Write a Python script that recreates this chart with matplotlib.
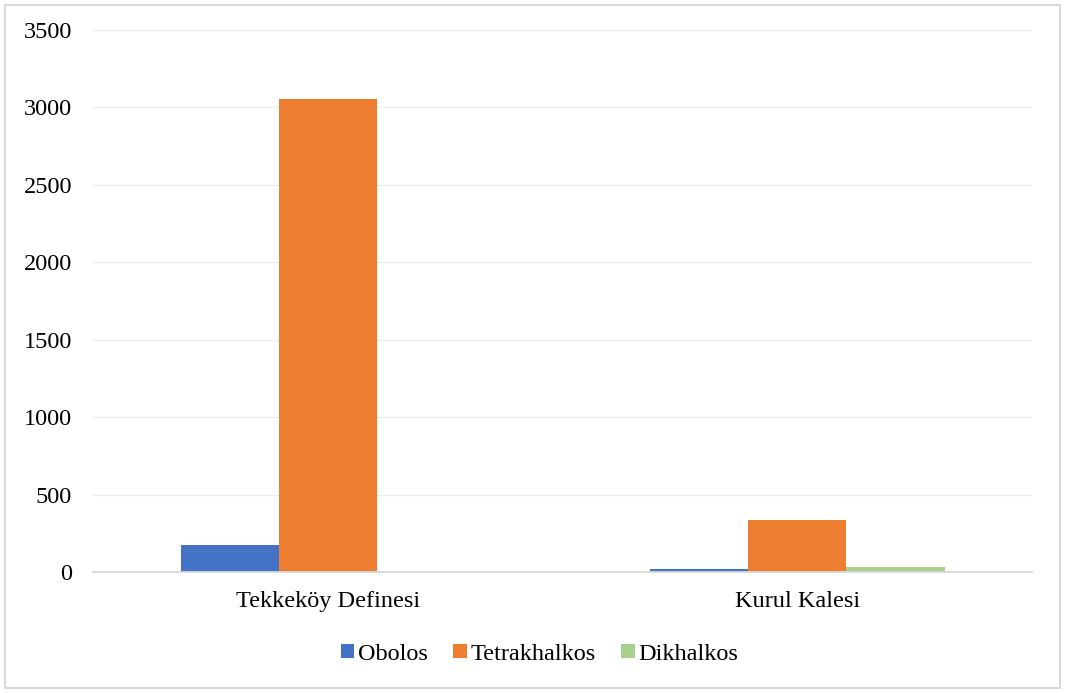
import matplotlib.pyplot as plt
import numpy as np
from matplotlib.patches import Rectangle

# Data
sites = ["Tekkeköy Definesi", "Kurul Kalesi"]
series_names = ["Obolos", "Tetrakhalkos", "Dikhalkos"]
obolos = [175, 17]
tetrakhalkos = [3056, 334]
dikhalkos = [0, 32]
colors = ["#4472C4", "#ED7D31", "#A9D18E"]

plt.rcParams["font.family"] = ["Liberation Serif", "DejaVu Serif"]

fig = plt.figure(figsize=(10.65, 6.93), dpi=100)
ax = fig.add_axes([0.0873, 0.1746, 0.8818, 0.7821])

x = np.arange(len(sites))
width = 0.209
for i, (name, vals) in enumerate(zip(series_names, [obolos, tetrakhalkos, dikhalkos])):
    ax.bar(x + (i - 1) * width, vals, width, color=colors[i], label=name, zorder=3)

ax.set_xlim(-0.5, 1.5)
ax.set_ylim(0, 3500)
ax.set_yticks(range(0, 3501, 500))
ax.set_xticks(x)
ax.set_xticklabels(sites)
ax.tick_params(axis="both", length=0, labelsize=17.5, colors="black")
ax.tick_params(axis="y", pad=15)
ax.tick_params(axis="x", pad=14)
ax.grid(axis="y", color="#ececec", linewidth=1, zorder=0)
for side in ["top", "right", "left"]:
    ax.spines[side].set_visible(False)
ax.spines["bottom"].set_color("#d9d9d9")
ax.spines["bottom"].set_linewidth(1.3)
ax.spines["bottom"].set_zorder(4)

ax.legend(loc="center", ncol=3, frameon=False, fontsize=17.5,
          handlelength=0.55, handleheight=0.55, handletextpad=0.15,
          columnspacing=1.05)
leg = ax.get_legend()
leg.set_bbox_to_anchor((0.5 + 7 / 1065, 1 - 654 / 693), transform=fig.transFigure)

# thin grey frame around the whole chart
fig.patches.append(Rectangle((5 / 1065, 5 / 693), 1055 / 1065, 683 / 693,
                             transform=fig.transFigure, fill=False,
                             edgecolor="#d9d9d9", linewidth=1.5))

fig.savefig("out.png", dpi=100)
